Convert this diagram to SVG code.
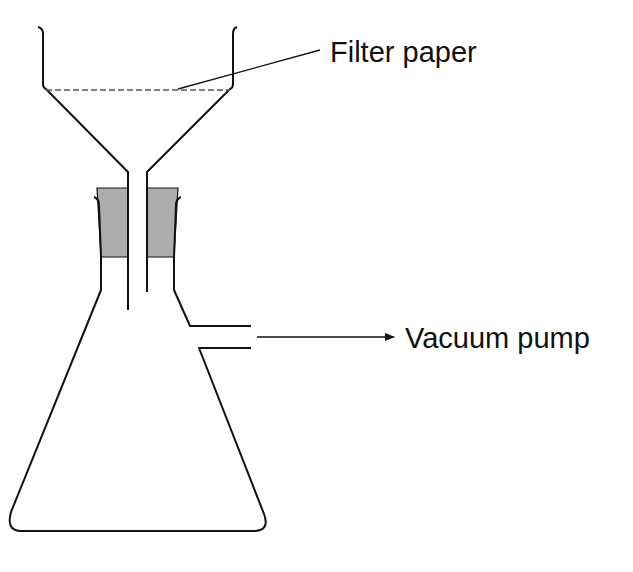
<svg xmlns="http://www.w3.org/2000/svg" width="633" height="572" viewBox="0 0 633 572">
<style>.l{fill:none;stroke:#111;stroke-width:2;stroke-linejoin:round}.t{font-family:"Liberation Sans",Arial,sans-serif;font-size:29px;fill:#111}</style>
<defs><marker id="a" markerWidth="10" markerHeight="8" refX="9" refY="4" orient="auto" markerUnits="userSpaceOnUse"><path d="M0,0L10,4L0,8z" fill="#111"/></marker></defs>
<rect width="633" height="572" fill="#fff"/>
<g id="stopper" fill="#adadad" stroke="#111" stroke-width="1.2">
<path d="M97,188H128V257H101Z"/><path d="M147,188H178L174,257H147Z"/>
</g>
<g id="funnel">
<path class="l" d="M38,27Q43,28 43,34V84Q43,88 46,89L128,172V310"/>
<path class="l" d="M237,27Q233,28 233,34V84Q233,88 230,89L147,172V292"/>
<line x1="46" y1="90" x2="230" y2="90" stroke="#555" stroke-width="1.5" stroke-dasharray="6,3"/>
</g>
<g id="flask">
<path class="l" d="M94,197Q99,199 99,205L101,257V290L11,512Q6,530 20,531H255Q270,530 264,514L199,348H251"/>
<path class="l" d="M181,197Q176,199 176,205L174,257V290L190,326H251"/>
</g>
<g id="connectors">
<line x1="178" y1="89" x2="320" y2="50" stroke="#111" stroke-width="1.3"/>
<line x1="257" y1="337" x2="394" y2="337" stroke="#111" stroke-width="1.5" marker-end="url(#a)"/>
</g>
<text class="t" x="330" y="62">Filter paper</text>
<text class="t" x="405" y="348">Vacuum pump</text>
</svg>
